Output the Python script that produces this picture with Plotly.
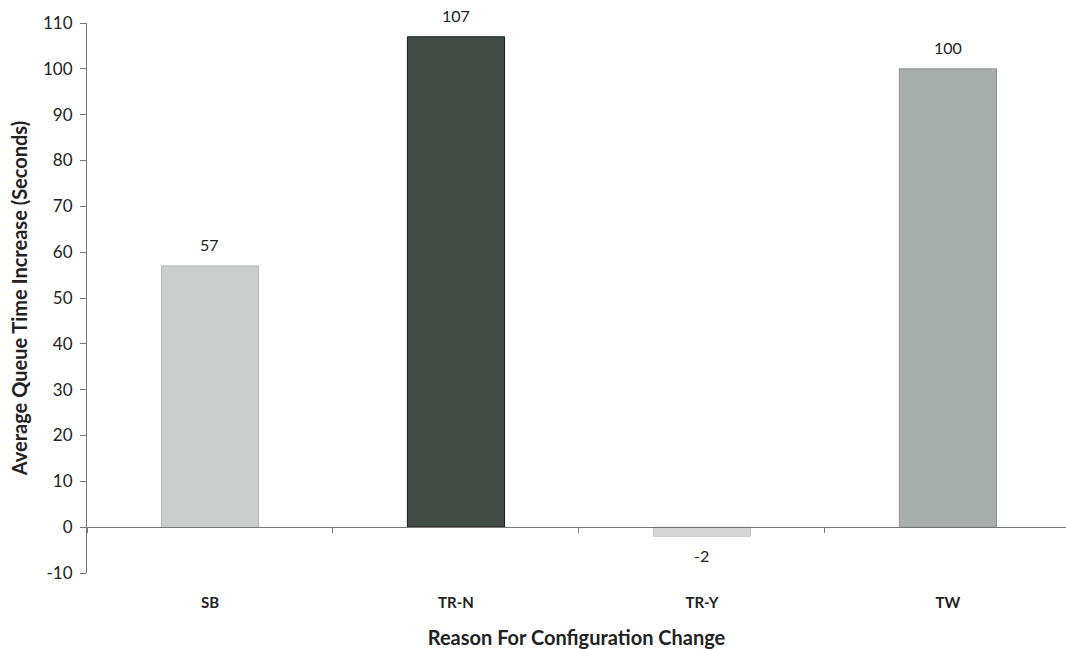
import plotly.graph_objects as go

categories = ["SB", "TR-N", "TR-Y", "TW"]
values = [57, 107, -2, 100]
bar_colors = ["#cbcdcc", "#424a45", "#d6d6d6", "#a8aeab"]
line_colors = ["#b5b8b6", "#1a1a1a", "#c8c8c8", "#8f9592"]
y_ticks = list(range(-10, 111, 10))
y_tick_text = [str(t) for t in y_ticks]

FONT = "Lato, 'Open Sans', sans-serif"
TXT = "#222222"

fig = go.Figure()
fig.add_trace(go.Bar(
    x=categories, y=values, width=0.395,
    marker=dict(color=bar_colors, line=dict(color=line_colors, width=1)),
    hoverinfo="x+y", showlegend=False,
))
# helper trace for the zero-level category axis
fig.add_trace(go.Scatter(
    x=categories, y=[0] * len(categories), xaxis="x2", mode="lines",
    line=dict(width=0), hoverinfo="skip", showlegend=False,
))

for c, v in zip(categories, values):
    fig.add_annotation(
        x=c, y=v, text=str(v), showarrow=False,
        yanchor="bottom" if v >= 0 else "top",
        yshift=10 if v >= 0 else -8,
        font=dict(family=FONT, size=16, color=TXT),
    )

xr = [-0.5, 3.48]
zero_pos = (0 - (-10)) / 120

fig.update_layout(
    width=1066, height=649,
    margin=dict(l=87, r=0, t=23, b=76),
    plot_bgcolor="white", paper_bgcolor="white",
    font=dict(family=FONT, size=14, color=TXT),
    xaxis=dict(
        type="category", categoryorder="array", categoryarray=categories,
        range=xr, showline=False, ticks="", showgrid=False, zeroline=False,
        tickfont=dict(family=FONT, size=15, color=TXT, weight="bold"),
        ticklabelstandoff=19, automargin=False,
        title=dict(text="<b>Reason For Configuration Change</b>", standoff=20,
                   font=dict(family=FONT, size=20, color=TXT)),
    ),
    xaxis2=dict(
        type="category", categoryorder="array", categoryarray=categories,
        range=xr, overlaying="x", anchor="free", position=zero_pos,
        showline=True, linecolor="#777777", linewidth=1,
        ticks="outside", tickson="boundaries", ticklen=5, tickcolor="#777777",
        showticklabels=False, showgrid=False, zeroline=False,
    ),
    yaxis=dict(
        range=[-10, 110], tickvals=y_ticks, ticktext=y_tick_text,
        showgrid=False, zeroline=False, automargin=False,
        showline=True, linecolor="#777777", linewidth=1,
        ticks="outside", ticklen=6, tickcolor="#777777", ticklabelstandoff=4,
        tickfont=dict(family=FONT, size=17, color=TXT),
        title=dict(text="<b>Average Queue Time Increase (Seconds)</b>", standoff=10,
                   font=dict(family=FONT, size=20, color=TXT)),
    ),
)

fig.write_html("out.html")
